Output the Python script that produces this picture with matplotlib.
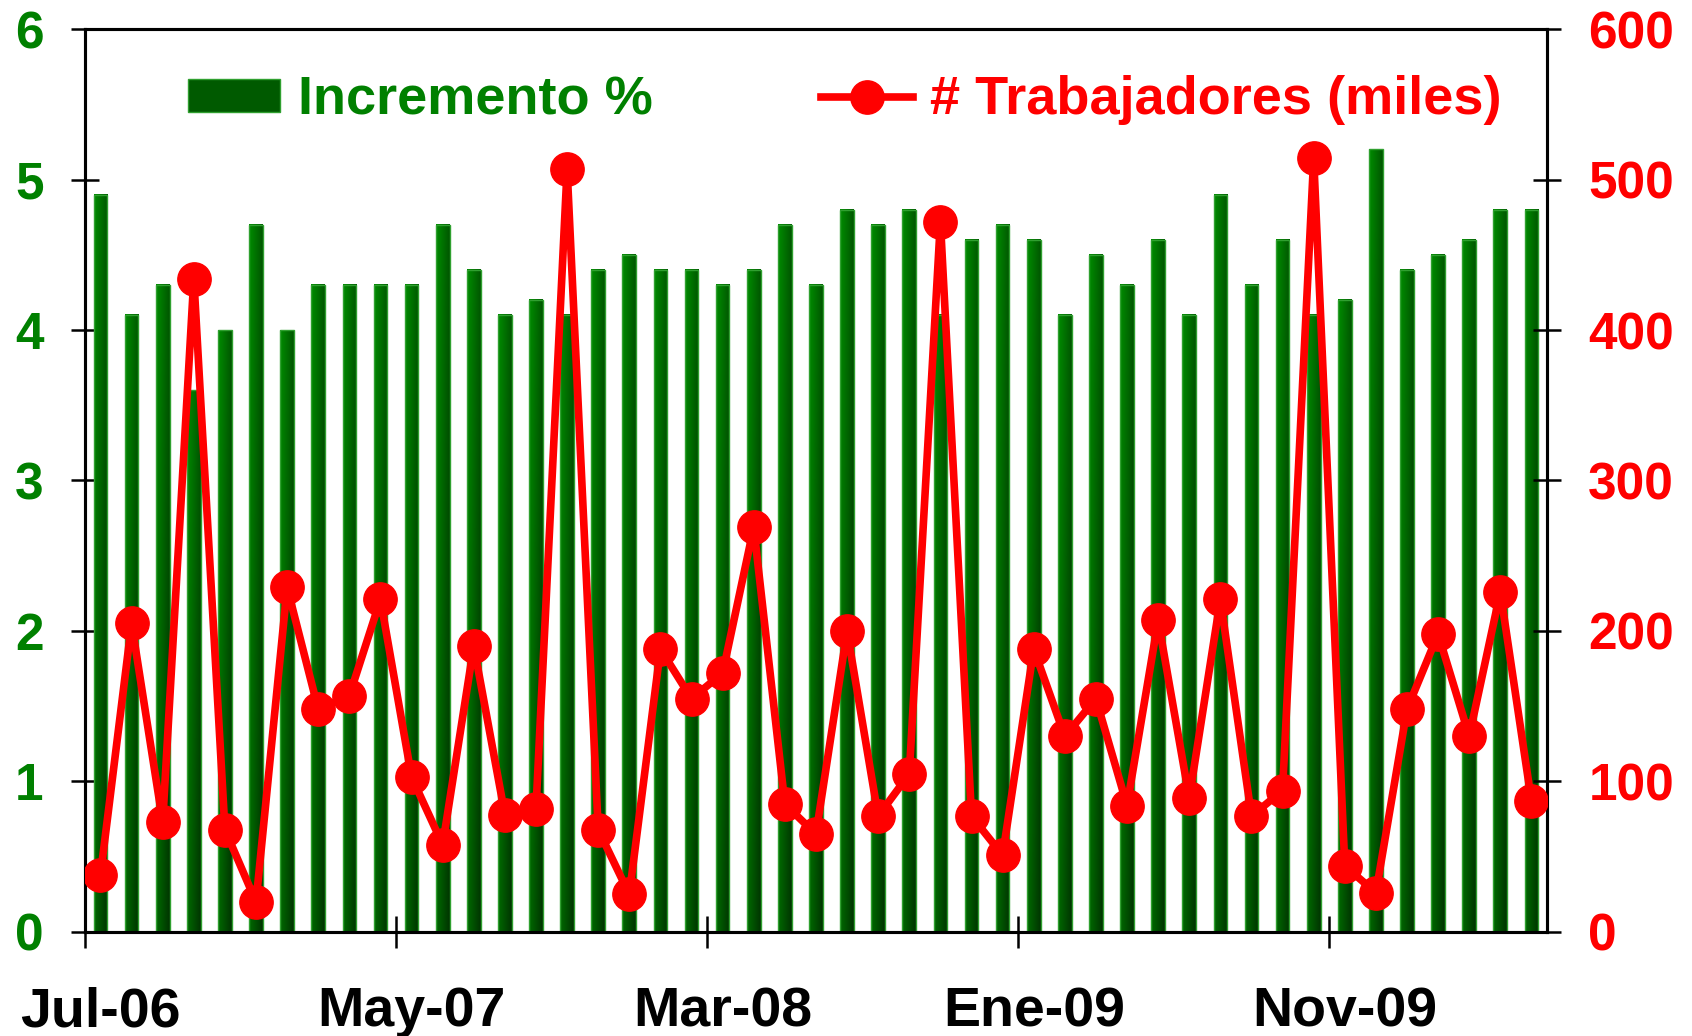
import matplotlib
matplotlib.use('Agg')
import matplotlib.pyplot as plt
import numpy as np
from matplotlib.colors import LinearSegmentedColormap
from matplotlib.patches import Patch
from matplotlib.lines import Line2D

plt.rcParams['font.family'] = ['Liberation Sans', 'DejaVu Sans']
plt.rcParams['font.weight'] = 'bold'

# datos mensuales, Jul-06 .. May-10
incremento = [4.9, 4.1, 4.3, 3.6, 4.0, 4.7, 4.0, 4.3, 4.3, 4.3,
              4.3, 4.7, 4.4, 4.1, 4.2, 4.1, 4.4, 4.5, 4.4, 4.4,
              4.3, 4.4, 4.7, 4.3, 4.8, 4.7, 4.8, 4.1, 4.6, 4.7,
              4.6, 4.1, 4.5, 4.3, 4.6, 4.1, 4.9, 4.3, 4.6, 4.1,
              4.2, 5.2, 4.4, 4.5, 4.6, 4.8, 4.8]
trabajadores = [38, 205, 73, 434, 68, 20, 229, 148, 157, 221,
                103, 58, 190, 78, 82, 507, 68, 25, 188, 155,
                172, 269, 85, 65, 200, 77, 105, 472, 77, 51,
                188, 130, 155, 84, 207, 89, 221, 77, 94, 514,
                44, 26, 148, 198, 130, 226, 87]
etiquetas = ['Jul-06', 'May-07', 'Mar-08', 'Ene-09', 'Nov-09']
pos_etiquetas = [0, 10, 20, 30, 40]

verde = '#008000'
rojo = '#ff0000'

fig = plt.figure(figsize=(16.92, 10.36), dpi=100)
ax = fig.add_axes([0.0502, 0.1004, 0.8641, 0.8716])
ax2 = ax.twinx()

x = np.arange(len(incremento))
barras = ax.bar(x, incremento, width=0.44, color='none', edgecolor='#30a030',
                linewidth=1, zorder=3)

# relleno degradado de las barras
cmap = LinearSegmentedColormap.from_list('verdes', ['#008c00', '#006000', '#003400'])
u, v = np.meshgrid(np.linspace(0, 1, 24), np.linspace(0, 1, 60))
grad = 0.6 * u + 0.4 * (1 - v)
for b in barras:
    ax.imshow(grad, extent=[b.get_x(), b.get_x() + b.get_width(), 0, b.get_height()],
              origin='lower', aspect='auto', cmap=cmap, vmin=0, vmax=1, zorder=2,
              interpolation='bilinear')

ax2.plot(x, trabajadores, color=rojo, lw=5.5, marker='o', ms=24, zorder=5)

ax.set_xlim(-0.5, len(x) - 0.5)
ax.set_ylim(0, 6)
ax2.set_ylim(0, 600)

ax.set_xticks(np.arange(-0.5, 40, 10))
ax.set_xticklabels([])
ax.set_xticks(pos_etiquetas, minor=True)
ax.set_xticklabels(etiquetas, minor=True)
ax.tick_params(axis='x', which='major', direction='inout', length=23, width=1.8)
ax.tick_params(axis='x', which='minor', length=0, pad=39, labelsize=40)

ax.set_yticks(range(0, 7))
ax2.set_yticks(range(0, 700, 100))
ax.tick_params(axis='y', direction='inout', length=19.5, width=1.8, labelsize=37,
               labelcolor=verde, pad=20)
ax2.tick_params(axis='y', direction='inout', length=19.5, width=1.8, labelsize=37,
                labelcolor=rojo, pad=20)

for a in (ax, ax2):
    for s in a.spines.values():
        s.set_linewidth(2.2)

handles = [Patch(facecolor='#005a00', edgecolor='#30a030'),
           Line2D([], [], color=rojo, lw=5.5, marker='o', ms=24)]
fig.legend(handles=handles, labels=['Incremento %', '# Trabajadores (miles)'],
           ncol=2, loc='center', bbox_to_anchor=(0.4994, 0.903), frameon=False,
           fontsize=39, handlelength=1.7, handleheight=0.55, handletextpad=0.33,
           columnspacing=3.1, labelcolor=[verde, rojo])

fig.savefig('out.png', dpi=100)
